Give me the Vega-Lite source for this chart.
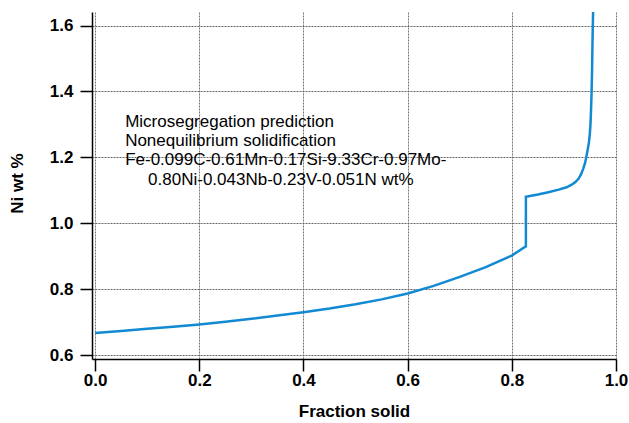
{
  "$schema": "https://vega.github.io/schema/vega-lite/v6.json",
  "width": 524,
  "height": 347,
  "autosize": "none",
  "padding": {"left": 92, "top": 12, "right": 13, "bottom": 64},
  "background": "white",
  "config": {"view": {"stroke": null}, "font": "Liberation Sans"},
  "datasets": {
    "curve": [
      {"i": 1, "fs": 0.0, "ni": 0.667},
      {"i": 2, "fs": 0.05, "ni": 0.673},
      {"i": 3, "fs": 0.1, "ni": 0.68},
      {"i": 4, "fs": 0.15, "ni": 0.686},
      {"i": 5, "fs": 0.2, "ni": 0.693},
      {"i": 6, "fs": 0.25, "ni": 0.701},
      {"i": 7, "fs": 0.3, "ni": 0.71},
      {"i": 8, "fs": 0.35, "ni": 0.72},
      {"i": 9, "fs": 0.4, "ni": 0.73},
      {"i": 10, "fs": 0.45, "ni": 0.741},
      {"i": 11, "fs": 0.5, "ni": 0.754},
      {"i": 12, "fs": 0.55, "ni": 0.769},
      {"i": 13, "fs": 0.6, "ni": 0.787},
      {"i": 14, "fs": 0.65, "ni": 0.81},
      {"i": 15, "fs": 0.7, "ni": 0.837},
      {"i": 16, "fs": 0.75, "ni": 0.867},
      {"i": 17, "fs": 0.8, "ni": 0.902},
      {"i": 18, "fs": 0.827, "ni": 0.93},
      {"i": 19, "fs": 0.827, "ni": 1.08},
      {"i": 20, "fs": 0.85, "ni": 1.087},
      {"i": 21, "fs": 0.87, "ni": 1.094},
      {"i": 22, "fs": 0.89, "ni": 1.102},
      {"i": 23, "fs": 0.905, "ni": 1.109},
      {"i": 24, "fs": 0.915, "ni": 1.117},
      {"i": 25, "fs": 0.922, "ni": 1.125},
      {"i": 26, "fs": 0.928, "ni": 1.135},
      {"i": 27, "fs": 0.933, "ni": 1.149},
      {"i": 28, "fs": 0.937, "ni": 1.165},
      {"i": 29, "fs": 0.9405, "ni": 1.182},
      {"i": 30, "fs": 0.943, "ni": 1.2},
      {"i": 31, "fs": 0.9455, "ni": 1.222},
      {"i": 32, "fs": 0.948, "ni": 1.245},
      {"i": 33, "fs": 0.9497, "ni": 1.27},
      {"i": 34, "fs": 0.951, "ni": 1.3},
      {"i": 35, "fs": 0.952, "ni": 1.34},
      {"i": 36, "fs": 0.953, "ni": 1.39},
      {"i": 37, "fs": 0.954, "ni": 1.46},
      {"i": 38, "fs": 0.955, "ni": 1.56},
      {"i": 39, "fs": 0.956, "ni": 1.641}
    ]
  },
  "layer": [
    {
      "data": {"name": "curve"},
      "mark": {"type": "line", "color": "#1289d3", "strokeWidth": 2.5, "clip": false},
      "encoding": {
        "x": {
          "field": "fs",
          "type": "quantitative",
          "scale": {"domain": [-0.006, 1.0], "nice": false, "zero": false},
          "axis": {
            "title": "Fraction solid",
            "values": [0, 0.2, 0.4, 0.6, 0.8, 1.0],
            "format": ".1f",
            "labelFont": "Liberation Sans",
            "labelFontSize": 17,
            "labelFontWeight": "bold",
            "labelColor": "black",
            "labelPadding": 1,
            "labelFlush": false,
            "labelOverlap": false,
            "tickSize": 12,
            "tickColor": "black",
            "tickWidth": 1.5,
            "domainColor": "black",
            "domainWidth": 1.5,
            "grid": true,
            "gridColor": "#777777",
            "gridDash": [2, 1],
            "gridWidth": 1,
            "titleFont": "Liberation Sans",
            "titleFontSize": 17,
            "titleFontWeight": "bold",
            "titleColor": "black",
            "titleY": 57,
            "titleBaseline": "alphabetic"
          }
        },
        "y": {
          "field": "ni",
          "type": "quantitative",
          "scale": {"domain": [0.588, 1.641], "nice": false, "zero": false},
          "axis": {
            "title": "Ni wt %",
            "values": [0.6, 0.8, 1.0, 1.2, 1.4, 1.6],
            "format": ".1f",
            "labelFont": "Liberation Sans",
            "labelFontSize": 17,
            "labelFontWeight": "bold",
            "labelColor": "black",
            "labelPadding": 7,
            "labelFlush": false,
            "labelOverlap": false,
            "tickSize": 12,
            "tickColor": "black",
            "tickWidth": 1.5,
            "domainColor": "black",
            "domainWidth": 1.5,
            "grid": true,
            "gridColor": "#666666",
            "gridDash": [2, 1],
            "gridWidth": 1,
            "titleFont": "Liberation Sans",
            "titleFontSize": 17,
            "titleFontWeight": "bold",
            "titleColor": "black",
            "titleX": -75,
            "titleY": 171,
            "titleAlign": "center",
            "titleBaseline": "middle"
          }
        },
        "order": {"field": "i", "type": "quantitative"}
      }
    },
    {
      "data": {"values": [{}]},
      "mark": {
        "type": "text",
        "text": ["Microsegregation prediction", "Nonequilibrium solidification", "Fe-0.099C-0.61Mn-0.17Si-9.33Cr-0.97Mo-"],
        "align": "left",
        "baseline": "alphabetic",
        "font": "Liberation Sans",
        "fontSize": 17,
        "lineHeight": 19.3,
        "color": "black"
      },
      "encoding": {
        "x": {"datum": 0.0576, "type": "quantitative"},
        "y": {"datum": 1.293, "type": "quantitative"}
      }
    },
    {
      "data": {"values": [{}]},
      "mark": {
        "type": "text",
        "text": "0.80Ni-0.043Nb-0.23V-0.051N wt%",
        "align": "left",
        "baseline": "alphabetic",
        "font": "Liberation Sans",
        "fontSize": 17,
        "color": "black"
      },
      "encoding": {
        "x": {"datum": 0.1017, "type": "quantitative"},
        "y": {"datum": 1.1159, "type": "quantitative"}
      }
    }
  ]
}
